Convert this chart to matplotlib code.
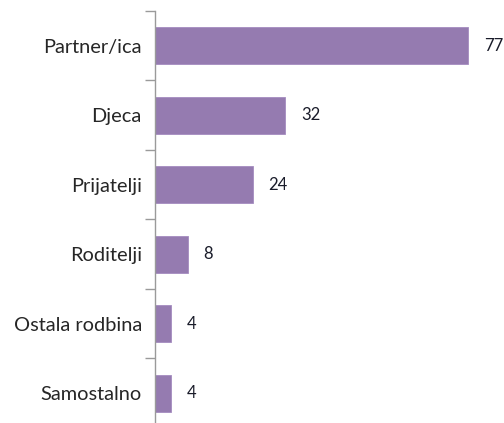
import numpy as np
import matplotlib.pyplot as plt

categories = ['Partner/ica', 'Djeca', 'Prijatelji', 'Roditelji', 'Ostala rodbina', 'Samostalno']
values = [77, 32, 24, 8, 4, 4]

plt.rcParams['font.family'] = ['Lato', 'DejaVu Sans']

fig = plt.figure(figsize=(5.04, 4.23), dpi=100)
ax = fig.add_axes([155 / 504, -5 / 423, 346 / 504, 417 / 423])

y = np.arange(len(categories))
ax.barh(y, values, height=0.53, color='#957bb0', edgecolor='#a48cc0', linewidth=0.6)
ax.set_ylim(len(categories) - 0.5, -0.5)
ax.set_xlim(0, 85)

for yi, v in zip(y, values):
    ax.text(v + 3.9, yi, str(v), va='center', ha='left', fontsize=12, color='#1a1c2a')

# category ticks sit between the bars, labels centred on them
ax.set_yticks(np.arange(len(categories) + 1) - 0.5)
ax.set_yticklabels([])
ax.set_yticks(y, minor=True)
ax.set_yticklabels(categories, minor=True, fontsize=14.4, color='#262626')
ax.tick_params(axis='y', which='major', length=7, width=1, color='#9a9a9a', direction='out')
ax.tick_params(axis='y', which='minor', length=0, pad=9.5)

ax.set_xticks([])
for s in ['top', 'right', 'bottom']:
    ax.spines[s].set_visible(False)
ax.spines['left'].set_color('#9a9a9a')
ax.spines['left'].set_linewidth(1)

fig.savefig('out.png', dpi=100)
